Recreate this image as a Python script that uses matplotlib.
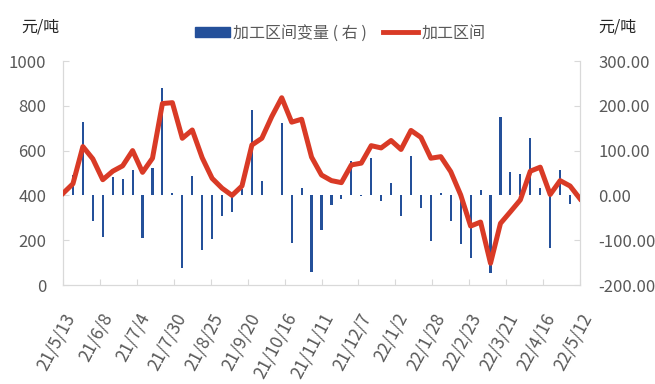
import numpy as np
import pandas as pd
import matplotlib
matplotlib.use('Agg')
import matplotlib.pyplot as plt
from matplotlib.patches import Patch
from matplotlib.lines import Line2D

plt.rcParams['font.family'] = ['Noto Sans CJK SC', 'DejaVu Sans']

# --- data (weekly) ---
dates = pd.date_range('2021-05-13', '2022-05-12', freq='7D')

spread = [409, 452, 618, 563, 470, 508, 532, 600, 503, 566,
          810, 814, 655, 692, 568, 476, 432, 400, 442, 625,
          655, 752, 836, 727, 740, 571, 491, 466, 457, 536,
          544, 622, 612, 645, 605, 690, 659, 566, 573, 506,
          402, 263, 281, 97, 275, 327, 380, 508, 526, 404,
          466, 442, 385]

spread_chg = [-99, 45, 163, -57, -93, 40, 36, 56, -94, 61,
              239, 6, -162, 44, -122, -98, -46, -37, 14, 190,
              32, np.nan, 162, -107, 16, -171, -78, -21, -8, 77,
              -2, 84, -12, 27, -46, 88, -29, -102, 6, -57,
              -109, -139, 11, -174, 174, 52, 47, 129, 16, -118,
              56, -20, np.nan]

tick_dates = pd.date_range('2021-05-13', '2022-05-12', freq='26D')

BLUE = '#24509A'
RED = '#D93A26'
GRAY = '#595959'
AXGRAY = '#D9D9D9'

fig = plt.figure(figsize=(6.55, 3.84), dpi=100)
ax = fig.add_axes([63 / 655, 1 - 285 / 384, (580 - 63) / 655, (285 - 61) / 384])
ax2 = ax.twinx()

# bars on right axis, line on left axis drawn above
ax2.bar(dates, spread_chg, width=1.5, color=BLUE, zorder=2)
ax.plot(dates, spread, color=RED, lw=3.6, zorder=3, solid_joinstyle='round')
ax.set_zorder(ax2.get_zorder() + 1)
ax.patch.set_visible(False)

ax.set_ylim(0, 1000)
ax.set_yticks(range(0, 1001, 200))
ax2.set_ylim(-200, 300)
ax2.set_yticks(range(-200, 301, 100))
ax2.set_yticklabels([f'{v:.2f}' for v in range(-200, 301, 100)])

ax.set_xlim(dates[0], dates[-1])
ax.set_xticks(tick_dates)
ax.set_xticklabels([f'{d.year % 100}/{d.month}/{d.day}' for d in tick_dates],
                   rotation=62, ha='right', rotation_mode='anchor')

for a in (ax, ax2):
    a.spines['top'].set_visible(False)
    for side in ('left', 'right', 'bottom'):
        a.spines[side].set_color(AXGRAY)
    a.tick_params(axis='both', colors=AXGRAY, labelcolor=GRAY, labelsize=12,
                  direction='in', length=4)
ax.tick_params(axis='y', pad=12)
ax2.tick_params(axis='y', pad=13)
ax.tick_params(axis='x', pad=18, labelsize=12.5)

fig.text(40 / 655, 1 - 27 / 384, '元/吨', ha='center', va='center', fontsize=11.5, color='#262626')
fig.text(617 / 655, 1 - 27 / 384, '元/吨', ha='center', va='center', fontsize=11.5, color='#262626')

handles = [Patch(color=BLUE), Line2D([0], [0], color=RED, lw=3.5)]
fig.legend(handles, ['加工区间变量 ( 右 )', '加工区间'], loc='center',
           bbox_to_anchor=(340 / 655, 1 - 33 / 384), ncol=2, frameon=False,
           fontsize=11.5, labelcolor=GRAY, handlelength=2.2, handletextpad=0.2,
           columnspacing=1.0, handleheight=0.6)

fig.savefig('out.png', dpi=100)
